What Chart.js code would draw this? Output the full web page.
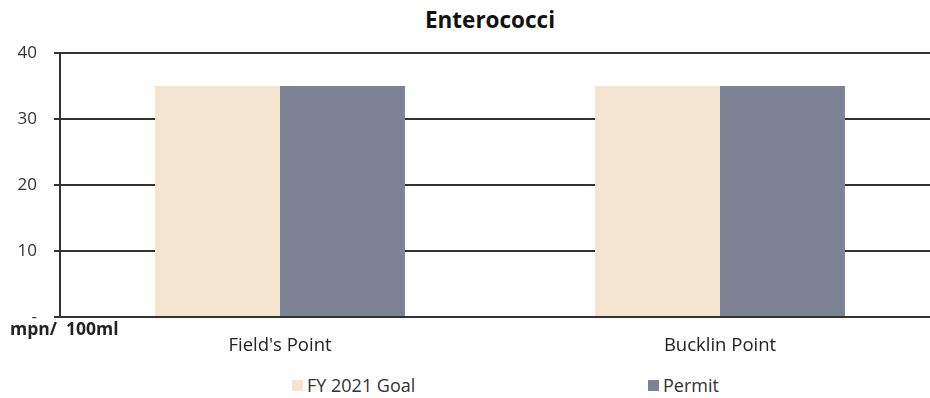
<!DOCTYPE html>
<html>
<head>
<meta charset="utf-8">
<script src="https://cdn.jsdelivr.net/npm/chart.js@4.4.1/dist/chart.umd.min.js"></script>
<style>
    html, body { margin: 0; padding: 0; background: #fff; overflow: hidden; }
    #wrap { position: relative; width: 930px; height: 398px; overflow: hidden; }
    #title { position: absolute; top: 4px; left: 390px; width: 200px; text-align: center;
             font: bold 22.5px "Open Sans", sans-serif; color: #111; }
    #box { position: absolute; left: 0; top: 0; width: 940px; height: 365px; }
    #legend { position: absolute; top: 373px; left: 0; width: 930px; font: 18px "Open Sans", sans-serif; color: #333; }
    .item { position: absolute; display: flex; align-items: center; }
    .swatch { width: 11px; height: 11px; margin-right: 4px; }
</style>
</head>
<body>
<div id="wrap">
    <div id="title">Enterococci</div>
    <div id="box"><canvas id="enteroChart"></canvas></div>
    <div id="legend"></div>
</div>
<script>
// Chart data
const sites = ["Field's Point", "Bucklin Point"];
const goalValues = [35, 35];
const permitValues = [35, 35];
const yTicks = [0, 10, 20, 30, 40];

const GOAL_COLOR = '#f3e5cf';
const PERMIT_COLOR = '#7e8295';
const LINE_COLOR = '#333333';

// Unit label drawn under the y axis
const unitLabel = {
    id: 'unitLabel',
    afterDraw(chart) {
        const ctx = chart.ctx;
        ctx.save();
        ctx.font = 'bold 17.5px "Open Sans", sans-serif';
        ctx.fillStyle = '#222';
        ctx.textBaseline = 'middle';
        ctx.fillText('mpn/  100ml', 10, 330);
        ctx.restore();
    }
};

const chart = new Chart(document.getElementById('enteroChart'), {
    type: 'bar',
    data: {
        labels: sites,
        datasets: [
            { label: 'FY 2021 Goal', data: goalValues, backgroundColor: GOAL_COLOR },
            { label: 'Permit', data: permitValues, backgroundColor: PERMIT_COLOR }
        ]
    },
    options: {
        responsive: true,
        maintainAspectRatio: false,
        animation: false,
        layout: { padding: { left: 0, right: 0, top: 53, bottom: 0 } },
        datasets: {
            bar: { categoryPercentage: 0.568, barPercentage: 1.0 }
        },
        scales: {
            x: {
                grid: { display: false, drawTicks: false },
                border: { display: false },
                ticks: { color: '#222', font: { family: 'Open Sans', size: 18.5 }, padding: 18 },
                afterFit: s => { s.height = 48; }
            },
            y: {
                min: 0,
                max: 40,
                afterBuildTicks: s => { s.ticks = yTicks.map(v => ({ value: v })); },
                grid: { color: LINE_COLOR, lineWidth: 2, tickLength: 6 },
                border: { display: true, color: LINE_COLOR, width: 2 },
                ticks: {
                    color: '#333',
                    font: { family: 'Open Sans', size: 17 },
                    padding: 17,
                    callback: v => v === 0 ? '-' : v
                },
                afterFit: s => { s.width = 60; }
            }
        },
        plugins: {
            legend: { display: false },
            tooltip: { enabled: false },
            title: { display: false }
        }
    },
    plugins: [unitLabel]
});

// Legend built from the datasets
const legendPos = [292, 648];
const legend = document.getElementById('legend');
chart.data.datasets.forEach((ds, i) => {
    const item = document.createElement('div');
    item.className = 'item';
    item.style.left = legendPos[i] + 'px';
    const sw = document.createElement('span');
    sw.className = 'swatch';
    sw.style.background = ds.backgroundColor;
    const txt = document.createElement('span');
    txt.textContent = ds.label;
    item.appendChild(sw);
    item.appendChild(txt);
    legend.appendChild(item);
});
</script>
</body>
</html>
